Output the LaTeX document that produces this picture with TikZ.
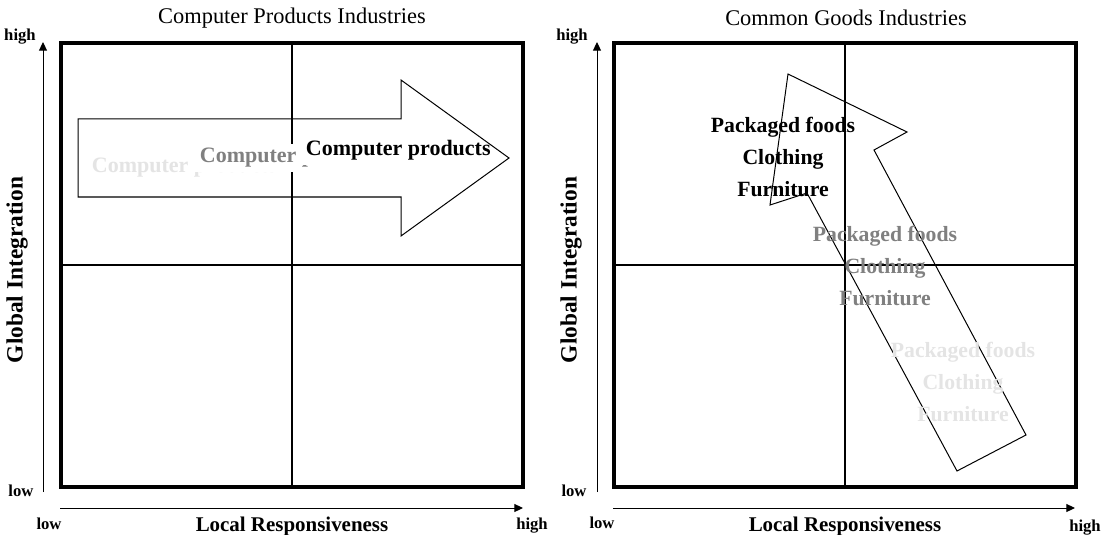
\documentclass[tikz,border=0pt]{standalone}
\usepackage{fontspec}
\setmainfont{Liberation Serif}
\usetikzlibrary{arrows.meta}
\definecolor{MidGray}{RGB}{128, 128, 128}
\definecolor{PaleGray}{RGB}{228, 228, 228}

\begin{document}
\begin{tikzpicture}[x=0.75pt, y=-0.75pt,
    panelframe/.style={line width=3.4pt},
    quadline/.style={line width=0.8pt},
    axisline/.style={line width=0.75pt, -{Triangle[length=6.5pt, width=6pt]}},
    trend/.style={line width=0.75pt, line join=miter},
    endlabel/.style={font=\fontsize{12.5}{14}\selectfont\bfseries},
    axistitle/.style={font=\fontsize{15.7}{18}\selectfont\bfseries},
    sidetitle/.style={font=\fontsize{17.5}{20}\selectfont\bfseries, rotate=90},
    paneltitle/.style={font=\fontsize{16.8}{20}\selectfont},
    itemlist/.style={font=\fontsize{16.3}{24}\selectfont\bfseries, align=center},
    itembox/.style={font=\fontsize{16.5}{19}\selectfont\bfseries, fill=white,
      inner xsep=7.2pt, inner ysep=3pt, anchor=base west}]
    \useasboundingbox (0,0) rectangle (1101,535);

    % Computer products panel
    \node[paneltitle] (ltitle) at (292,18) {Computer Products Industries};
    \draw[quadline] (292,43) -- (292,487);
    \draw[quadline] (61,265) -- (523,265);
    \draw[panelframe] (61,43) rectangle (523,487);

    % Axes
    \coordinate (lyfoot) at (43,492);
    \coordinate (lytop) at (43,42);
    \coordinate (lxfoot) at (60,508);
    \coordinate (lxtop) at (523,508);
    \draw[axisline] (lyfoot) -- (lytop);
    \draw[axisline] (lxfoot) -- (lxtop);
    \node[endlabel] (lyhigh) at (20,37) {high};
    \node[endlabel] (lylow) at (21,491) {low};
    \node[endlabel] (lxlow) at (49,524) {low};
    \node[endlabel] (lxhigh) at (532,526) {high};
    \node[sidetitle] (lytitle) at (17,270) {Global Integration};
    \node[axistitle] (lxtitle) at (292,526) {Local Responsiveness};

    % Shift to the right, oldest first
    \node[itembox, text=PaleGray] (comp1) at (82,172) {Computer products};
    \node[itembox, text=MidGray] (comp2) at (190,163) {Computer products};
    \node[itembox] (comp3) at (296,156) {Computer products};
    \draw[trend] (78,119) -- (401,119) -- (401,80) -- (509,158)
      -- (401,236) -- (401,197) -- (78,197) -- cycle;

    % Common goods panel
    \node[paneltitle] (rtitle) at (846,18) {Common Goods Industries};
    \draw[quadline] (845,43) -- (845,487);
    \draw[quadline] (614,265) -- (1076,265);
    \draw[panelframe] (614,43) rectangle (1076,487);

    % Axes
    \coordinate (ryfoot) at (597,492);
    \coordinate (rytop) at (597,42);
    \coordinate (rxfoot) at (613,508);
    \coordinate (rxtop) at (1075,508);
    \draw[axisline] (ryfoot) -- (rytop);
    \draw[axisline] (rxfoot) -- (rxtop);
    \node[endlabel] (ryhigh) at (572,37) {high};
    \node[endlabel] (rylow) at (574,491) {low};
    \node[endlabel] (rxlow) at (602,523) {low};
    \node[endlabel] (rxhigh) at (1085,528) {high};
    \node[sidetitle] (rytitle) at (571,270) {Global Integration};
    \node[axistitle] (rxtitle) at (845,526) {Local Responsiveness};

    % Shift up and to the left
    \draw[trend] (788,74) -- (907,132) -- (874,150) -- (1026,435)
      -- (957,471) -- (807,193) -- (770,205) -- cycle;
    \node[itemlist, text=PaleGray] (goods1) at (963,382) {Packaged foods\\Clothing\\Furniture};
    \node[itemlist, text=MidGray] (goods2) at (885,266) {Packaged foods\\Clothing\\Furniture};
    \node[itemlist] (goods3) at (783,157) {Packaged foods\\Clothing\\Furniture};
  \end{tikzpicture}
\end{document}
